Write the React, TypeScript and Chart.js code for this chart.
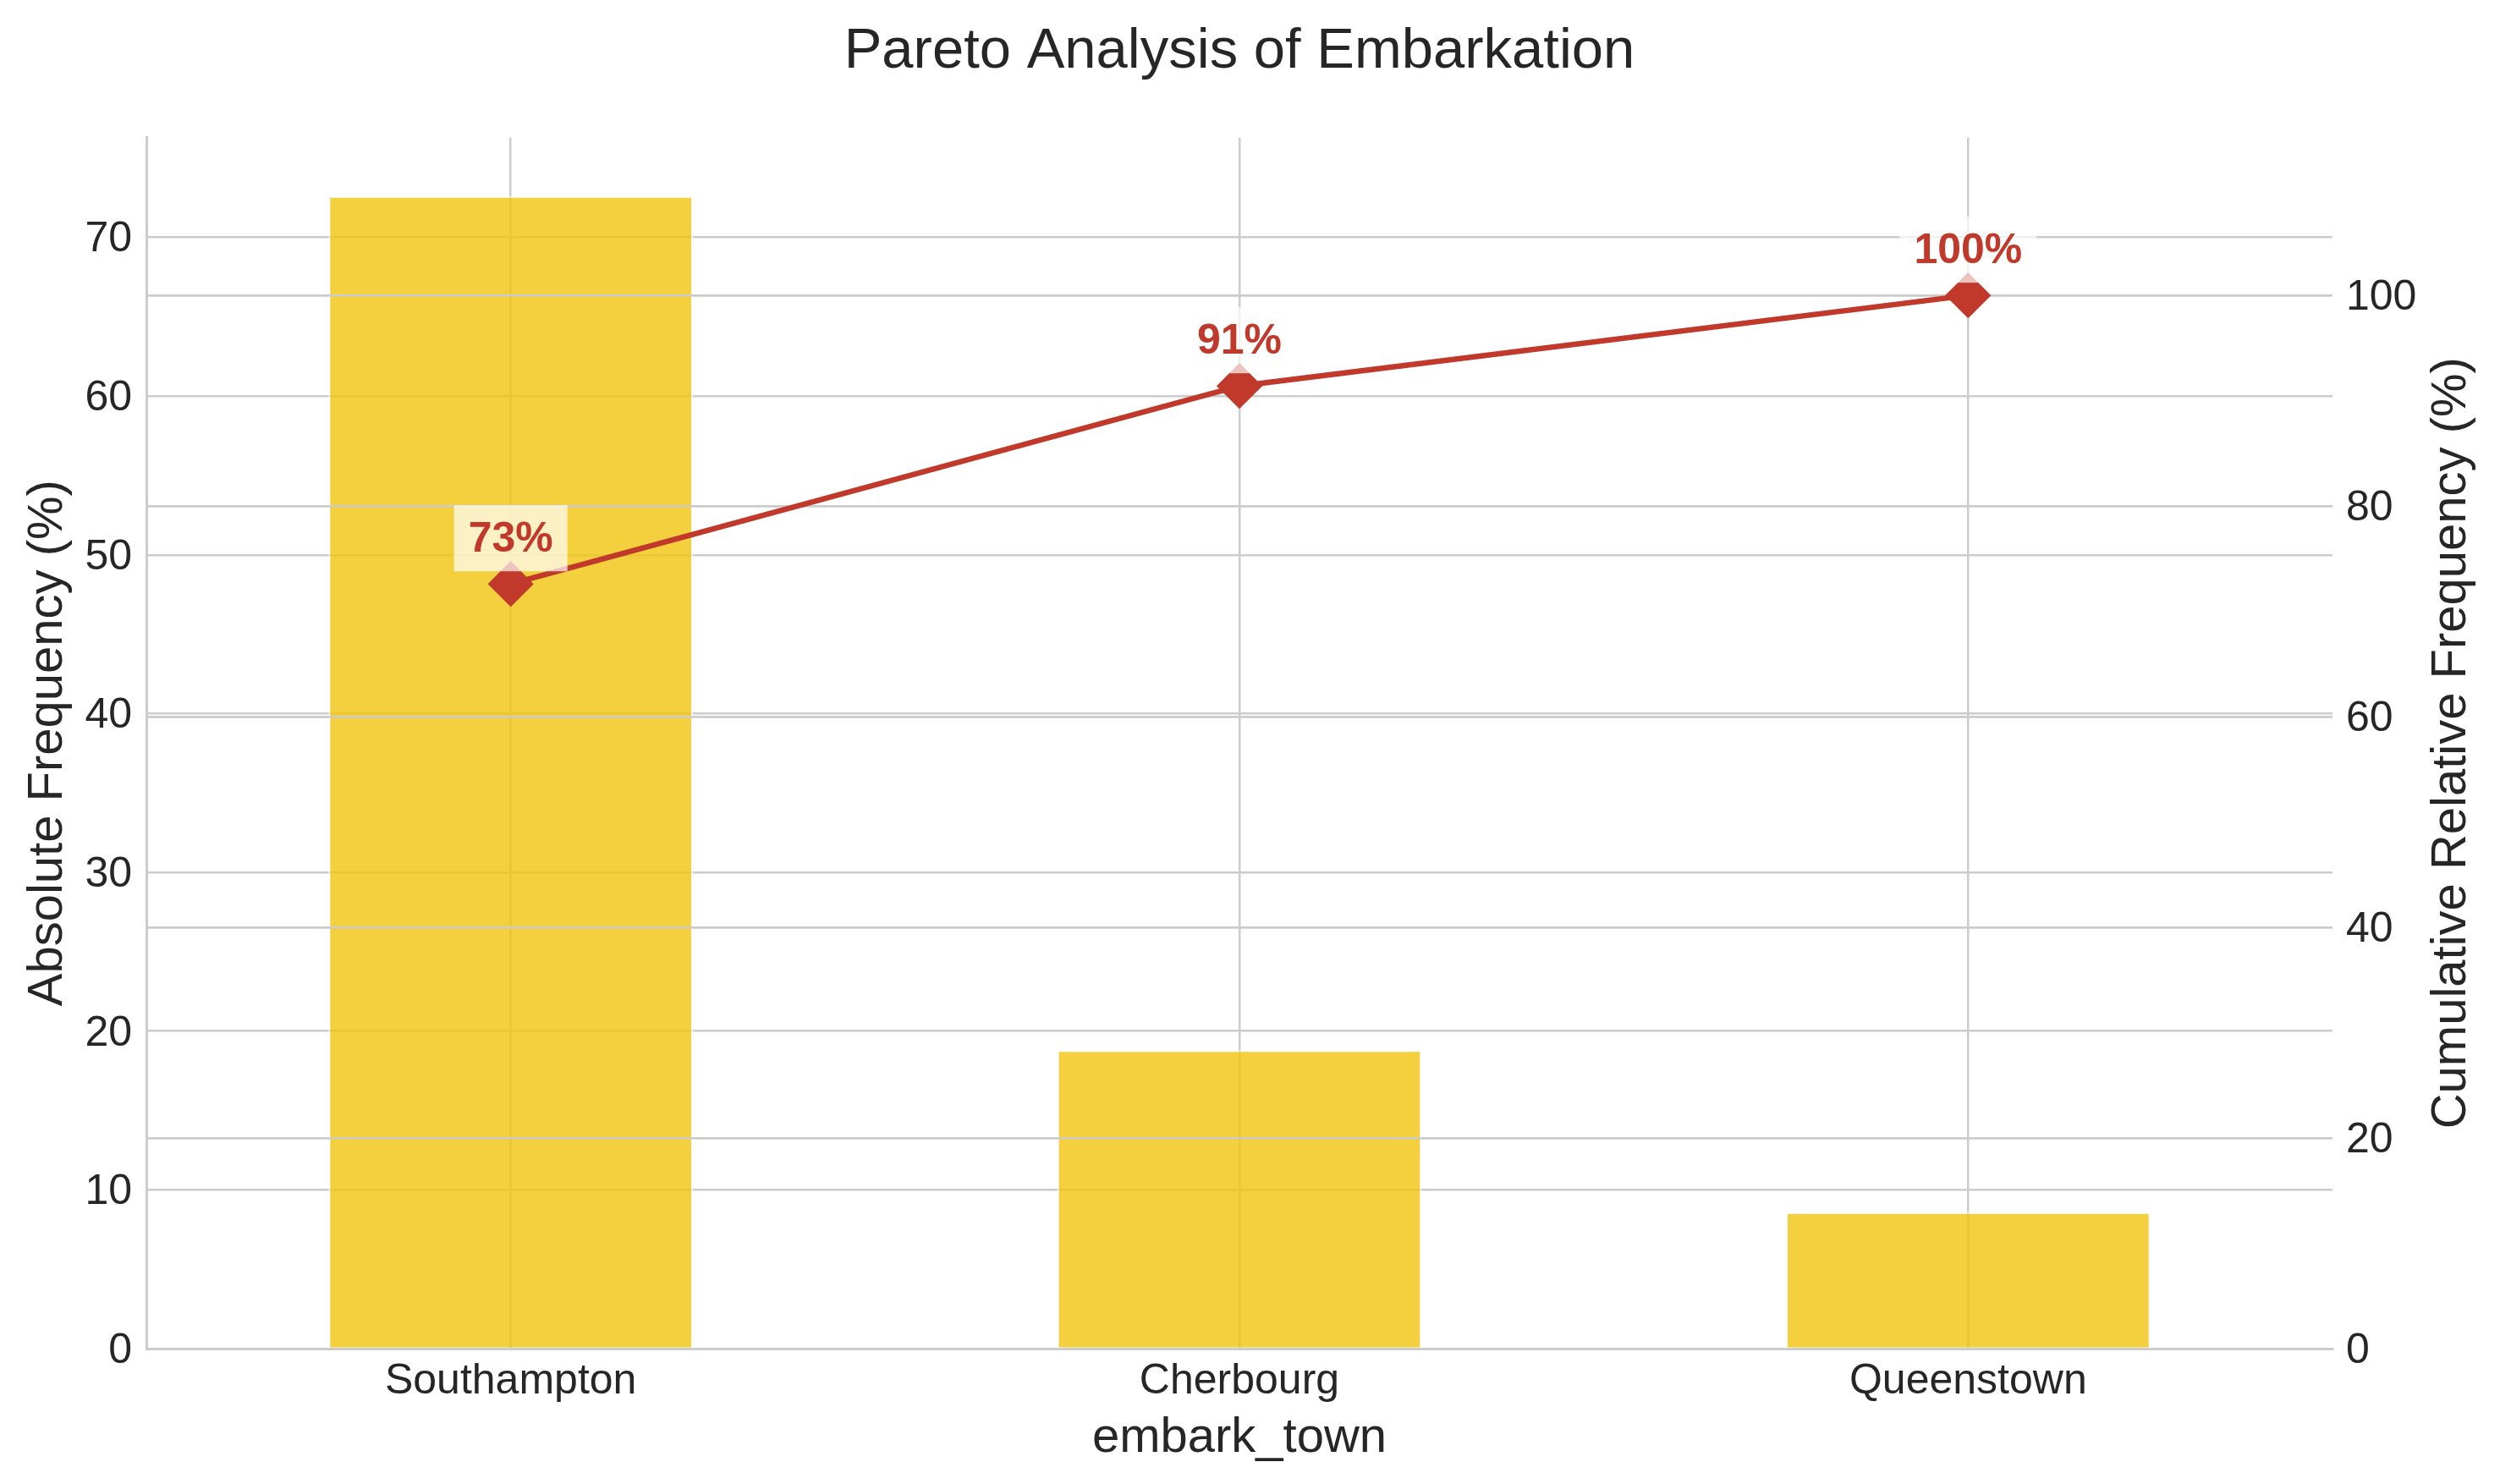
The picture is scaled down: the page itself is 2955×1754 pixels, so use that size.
import { useEffect, useRef } from "react";
import { Chart, registerables } from "chart.js";

Chart.register(...registerables);

const towns = ["Southampton", "Cherbourg", "Queenstown"];
const absoluteFreq = [72.6, 18.8, 8.6];
const cumulativeFreq = [72.6, 91.4, 100];
const cumulativeLabels = ["73%", "91%", "100%"];
const leftTicks = [0, 10, 20, 30, 40, 50, 60, 70];
const rightTicks = [0, 20, 40, 60, 80, 100];

const ink = "#262626";
const grid = "#cccccc";
const red = "#c0392b";
const font = "'Liberation Sans', Arial, sans-serif";

export default function App() {
  const canvasRef = useRef<HTMLCanvasElement>(null);

  useEffect(() => {
    const canvas = canvasRef.current;
    if (!canvas) return;

    // ax2 gridlines sit on top of the bars but under the line, like matplotlib's twin axis.
    const twinGrid = {
      id: "twinGrid",
      afterDatasetDraw(chart: any, args: any) {
        if (args.index !== 0) return;
        chart.scales.y2.drawGrid(chart.chartArea);
      },
    };

    // percentage labels with a half-white box above each cumulative point,
    // plus the right axis title which reads bottom-to-top in the original
    const pointLabels = {
      id: "pointLabels",
      afterDatasetsDraw(chart: any) {
        const ctx = chart.ctx;
        const meta = chart.getDatasetMeta(1);
        ctx.save();
        ctx.font = `bold 50px ${font}`;
        ctx.textAlign = "center";
        ctx.textBaseline = "middle";
        meta.data.forEach((pt: any, i: number) => {
          const text = cumulativeLabels[i];
          const w = ctx.measureText(text).width + 34;
          const h = 78;
          const bottom = pt.y - 15;
          ctx.fillStyle = "rgba(255,255,255,0.7)";
          ctx.fillRect(pt.x - w / 2, bottom - h, w, h);
          ctx.fillStyle = red;
          ctx.fillText(text, pt.x, bottom - h / 2 + 2);
        });

        const y2 = chart.scales.y2;
        const area = chart.chartArea;
        ctx.translate(y2.right - 57, (area.top + area.bottom) / 2);
        ctx.rotate(-Math.PI / 2);
        ctx.font = `58px ${font}`;
        ctx.fillStyle = ink;
        ctx.fillText("Cumulative Relative Frequency (%)", 0, 0);
        ctx.restore();
      },
    };

    const chart = new Chart(canvas.getContext("2d")!, {
      type: "bar",
      data: {
        labels: towns,
        datasets: [
          {
            type: "bar",
            label: "Absolute Frequency",
            data: absoluteFreq,
            yAxisID: "y",
            backgroundColor: "rgba(241,196,15,0.8)",
            borderColor: "rgba(255,255,255,0.7)",
            borderWidth: 2,
            barPercentage: 0.5,
            categoryPercentage: 1,
            order: 2,
          },
          {
            type: "line",
            label: "Cumulative",
            data: cumulativeFreq,
            yAxisID: "y2",
            borderColor: red,
            backgroundColor: red,
            borderWidth: 6.5,
            pointStyle: "rectRot",
            pointRadius: 25,
            pointBorderWidth: 3,
            pointBorderColor: red,
            pointBackgroundColor: red,
            tension: 0,
            order: 1,
          },
        ],
      },
      plugins: [twinGrid, pointLabels],
      options: {
        responsive: true,
        maintainAspectRatio: false,
        animation: false,
        layout: { padding: 0 },
        plugins: {
          legend: { display: false },
          tooltip: { enabled: false },
          title: {
            display: true,
            text: "Pareto Analysis of Embarkation",
            color: ink,
            fullSize: false,
            font: { size: 67, family: font, weight: "normal" },
            padding: { top: 21, bottom: 61 },
          },
        },
        scales: {
          x: {
            offset: true,
            afterFit: (s: any) => {
              s.height = 160;
            },
            grid: { color: grid, lineWidth: 2.5, offset: false, drawTicks: false },
            border: { display: true, color: grid, width: 3 },
            ticks: { color: ink, font: { size: 50, family: font }, padding: 9 },
            title: {
              display: true,
              text: "embark_town",
              color: ink,
              font: { size: 58, family: font },
              padding: { top: 0, bottom: 19 },
            },
          },
          y: {
            position: "left",
            min: 0,
            max: 76.3,
            afterFit: (s: any) => {
              s.width = 173;
            },
            afterBuildTicks: (s: any) => {
              s.ticks = leftTicks.map((v) => ({ value: v }));
            },
            grid: { color: grid, lineWidth: 2.5, drawTicks: false },
            border: { display: true, color: grid, width: 3 },
            ticks: { color: ink, font: { size: 50, family: font }, padding: 17, labelOffset: 3 },
            title: {
              display: true,
              text: "Absolute Frequency (%)",
              color: ink,
              font: { size: 58, family: font },
              padding: { top: 22, bottom: 0 },
            },
          },
          y2: {
            position: "right",
            min: 0,
            max: 115,
            afterFit: (s: any) => {
              s.width = 198;
            },
            afterBuildTicks: (s: any) => {
              s.ticks = rightTicks.map((v) => ({ value: v }));
            },
            grid: { color: grid, lineWidth: 2.5, drawTicks: false },
            border: { display: false },
            ticks: { color: ink, font: { size: 50, family: font }, padding: 16, labelOffset: 3 },
            title: { display: false },
          },
        },
      },
    } as any);

    return () => chart.destroy();
  }, []);

  return (
    <div style={{ position: "absolute", left: 0, top: 0, width: 2955, height: 1754, background: "#fff" }}>
      <canvas ref={canvasRef} />
    </div>
  );
}
